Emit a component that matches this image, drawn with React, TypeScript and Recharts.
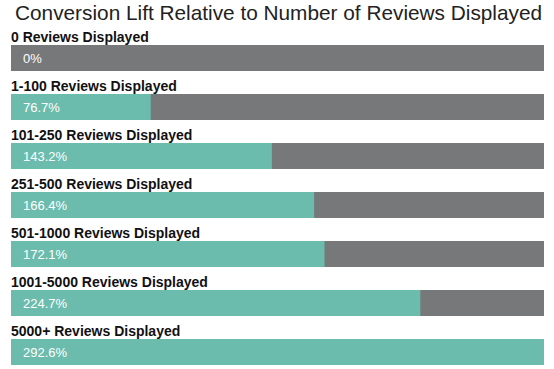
import React from 'react';
import { BarChart, Bar, XAxis, YAxis, LabelList } from 'recharts';

const categories = [
  '0 Reviews Displayed',
  '1-100 Reviews Displayed',
  '101-250 Reviews Displayed',
  '251-500 Reviews Displayed',
  '501-1000 Reviews Displayed',
  '1001-5000 Reviews Displayed',
  '5000+ Reviews Displayed',
];
const values = [0, 76.7, 143.2, 166.4, 172.1, 224.7, 292.6];
const valueLabels = ['0%', '76.7%', '143.2%', '166.4%', '172.1%', '224.7%', '292.6%'];
const maxValue = 292.6;
const title = 'Conversion Lift Relative to Number of Reviews Displayed';

const data = categories.map((name, i) => ({
  name,
  value: values[i],
  total: maxValue,
  label: valueLabels[i],
}));

const FONT = 'Liberation Sans, Arial, sans-serif';

const CategoryLabel = (props: any) => {
  const { x, y, value } = props;
  return (
    <text x={x} y={y - 3} fill="#111" fontSize={14} fontWeight="bold" fontFamily={FONT}>
      {value}
    </text>
  );
};

const ValueLabel = (props: any) => {
  const { x, y, height, value } = props;
  return (
    <text x={x + 12} y={y + height / 2} dy="0.35em" fill="#ffffff" fontSize={13} fontFamily={FONT}>
      {value}
    </text>
  );
};

export default function App() {
  return (
    <div style={{ position: 'absolute', left: 0, top: 0, width: 554, height: 369, background: '#fff' }}>
      <div
        style={{
          position: 'absolute',
          left: 15,
          top: 1,
          fontFamily: FONT,
          fontSize: 20.8,
          color: '#222',
          whiteSpace: 'nowrap',
          lineHeight: '24px',
        }}
      >
        {title}
      </div>
      <BarChart
        width={554}
        height={369}
        data={data}
        layout="vertical"
        margin={{ top: 33, right: 10, bottom: -7, left: 11 }}
        barSize={26}
      >
        <XAxis type="number" domain={[0, maxValue]} hide />
        <YAxis yAxisId="bg" type="category" dataKey="name" hide />
        <YAxis yAxisId="fg" type="category" dataKey="name" hide />
        <YAxis yAxisId="lbl" type="category" dataKey="name" hide />
        <Bar yAxisId="bg" dataKey="total" fill="#76787a" isAnimationActive={false} />
        <Bar yAxisId="fg" dataKey="value" fill="#6cbcad" isAnimationActive={false} />
        <Bar yAxisId="lbl" dataKey="total" fill="none" isAnimationActive={false}>
          <LabelList dataKey="name" content={CategoryLabel} />
          <LabelList dataKey="label" content={ValueLabel} />
        </Bar>
      </BarChart>
    </div>
  );
}
